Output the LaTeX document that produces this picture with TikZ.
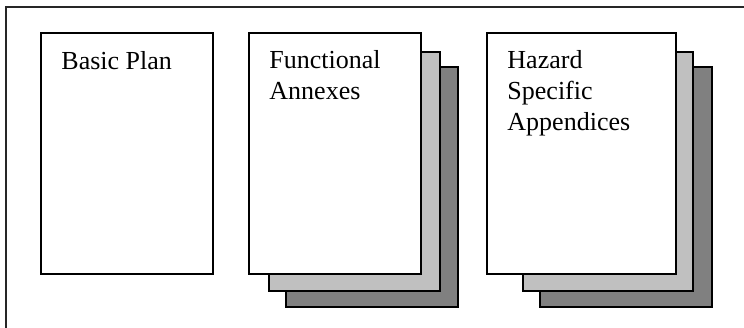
\documentclass[tikz,border=0pt]{standalone}
\usepackage{fontspec}
\setmainfont{Liberation Serif}
\definecolor{pagelight}{HTML}{C0C0C0}
\definecolor{pagedark}{HTML}{808080}
\begin{document}
\begin{tikzpicture}[x=1pt,y=-1pt,
  page/.style={draw=black,line width=1.5pt,rectangle,inner sep=0pt},
  label/.style={anchor=base west,inner sep=0pt,font=\fontsize{26}{31}\selectfont}]
\useasboundingbox (0,0) rectangle (744,328);
% outer frame (only top and left edges visible)
\coordinate (ftr) at (744,7);
\coordinate (ftl) at (6,7);
\coordinate (fbl) at (6,328);
\draw[line width=1.5pt,black!85] (ftr) -- (ftl) -- (fbl);
% Basic Plan
\node[page,fill=white,minimum width=172,minimum height=241] (bp) at (127,153.5) {};
\node[label] (bpt) at ([shift={(21,37)}]bp.north west) {Basic Plan};
% Functional Annexes
\node[page,fill=pagedark,minimum width=172,minimum height=240] (fa3) at (372,187) {};
\node[page,fill=pagelight,minimum width=171,minimum height=239] (fa2) at (354.5,171.5) {};
\node[page,fill=white,minimum width=172,minimum height=241] (fa) at (335,153.5) {};
\node[label] (fat1) at ([shift={(21,36)}]fa.north west) {Functional};
\node[label] (fat2) at ([shift={(21,67)}]fa.north west) {Annexes};
% Hazard Specific Appendices
\node[page,fill=pagedark,minimum width=172,minimum height=240] (hs3) at (626,187) {};
\node[page,fill=pagelight,minimum width=170,minimum height=239] (hs2) at (608,171.5) {};
\node[page,fill=white,minimum width=189,minimum height=241] (hs) at (581.5,153.5) {};
\node[label] (hst1) at ([shift={(21,36)}]hs.north west) {Hazard};
\node[label] (hst2) at ([shift={(21,67)}]hs.north west) {Specific};
\node[label] (hst3) at ([shift={(21,98)}]hs.north west) {Appendices};
\end{tikzpicture}
\end{document}
